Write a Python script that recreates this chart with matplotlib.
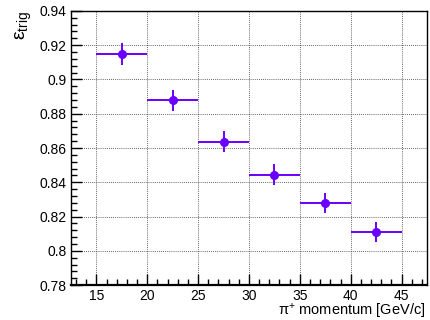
import numpy as np
import matplotlib
matplotlib.use("Agg")
import matplotlib.pyplot as plt
from matplotlib.ticker import MultipleLocator

plt.rcParams['font.family'] = ['Liberation Sans', 'DejaVu Sans']
plt.rcParams['mathtext.fontset'] = 'custom'
plt.rcParams['mathtext.rm'] = 'Liberation Sans'
plt.rcParams['mathtext.it'] = 'Liberation Sans:italic'

# %% data
bin_lo = [15, 20, 25, 30, 35, 40]
bin_hi = [20, 25, 30, 35, 40, 45]
eff = [0.9150, 0.8878, 0.8637, 0.8445, 0.8280, 0.8112]
eff_err = [0.0063, 0.0062, 0.0060, 0.0059, 0.0059, 0.0059]

x = [(a + b) / 2 for a, b in zip(bin_lo, bin_hi)]
xerr = [(b - a) / 2 for a, b in zip(bin_lo, bin_hi)]

# %% plot
fig = plt.figure(figsize=(4.3, 3.2), dpi=100)
ax = fig.add_axes([0.165, 0.109, 0.828, 0.857])
col = "#6a00ff"
ax.errorbar(x, eff, xerr=xerr, yerr=eff_err, fmt="o", color=col, ms=5.5,
            elinewidth=1.4, capsize=0, zorder=3)

ax.set_xlim(12.5, 47.5)
ax.set_ylim(0.78, 0.94)
ax.xaxis.set_major_locator(MultipleLocator(5))
ax.xaxis.set_minor_locator(MultipleLocator(1))
ax.yaxis.set_minor_locator(MultipleLocator(0.004))
ax.set_yticks(np.arange(0.78, 0.9401, 0.02))
ax.set_yticklabels(["0.78", "0.8", "0.82", "0.84", "0.86", "0.88", "0.9", "0.92", "0.94"])
ax.tick_params(which="both", direction="in", top=False, right=False, labelsize=10, pad=3)
ax.tick_params(which="major", length=8, width=1)
ax.tick_params(which="minor", length=4, width=1)
ax.grid(True, which="major", color="#333333", linestyle=(0, (1, 1.5)), linewidth=0.6)
for s in ax.spines.values():
    s.set_linewidth(1)
ax.spines["bottom"].set_linewidth(1.6)

ax.set_xlabel("π$^{+}$ momentum [GeV/c]", fontsize=10.5, ha="right", x=0.995, labelpad=-1)
ax.set_ylabel("ε$_{\\mathrm{trig}}$", fontsize=14, ha="right", y=1.0, labelpad=4)

fig.savefig("out.png", dpi=100)
